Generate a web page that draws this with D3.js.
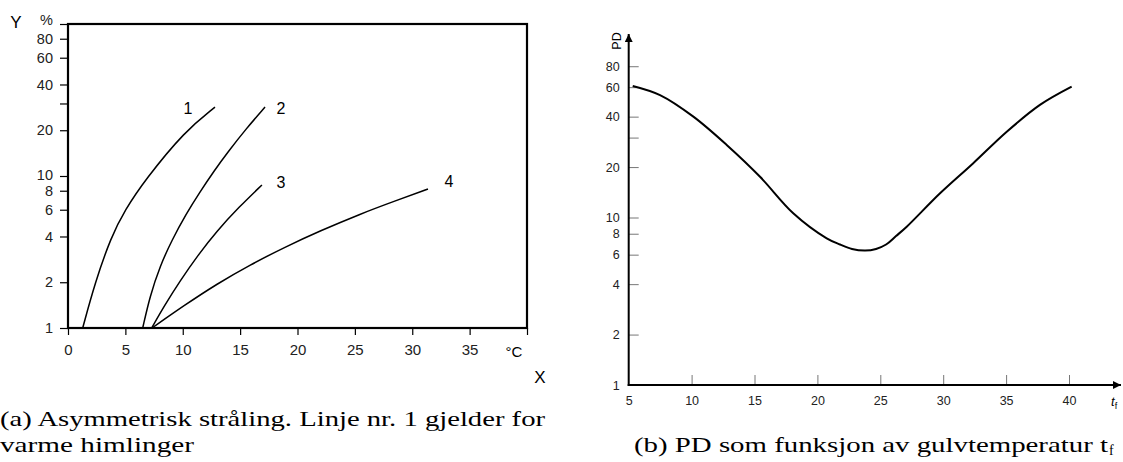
<!DOCTYPE html>
<html>
<head>
<meta charset="utf-8">
<script src="https://cdn.jsdelivr.net/npm/d3@7"></script>
<style>
  body { margin: 0; background: #fff; }
  svg { display: block; }
  .tick text { font-family: "Liberation Sans", Arial, sans-serif; fill: #222; }
</style>
</head>
<body>
<div id="main"></div>
<script>
// ---- data (a): asymmetric radiation, curves 1-4 (X in °C, Y in %)
const curveNames = ["1", "2", "3", "4"];
const c1x = [1.28, 2.35, 3.75, 4.97, 6.71, 10.2, 12.81];
const c1y = [1, 1.98, 3.97, 5.98, 9.41, 19.8, 28.4];
const c2x = [6.51, 7.14, 8.02, 9.06, 10.29, 11.5, 12.73, 13.94, 15.51, 17.17];
const c2y = [1, 1.62, 2.56, 3.79, 5.62, 7.85, 10.8, 14.4, 20.4, 28.4];
const c3x = [7.29, 8.45, 9.76, 11.33, 12.98, 14.9, 16.9];
const c3y = [1, 1.42, 2.04, 3.02, 4.35, 6.25, 8.73];
const c4x = [7.32, 10.2, 12.98, 15.86, 18.91, 21.96, 25.45, 28.5, 31.37];
const c4y = [1, 1.42, 1.95, 2.6, 3.41, 4.35, 5.62, 6.85, 8.21];
const aXTicks = [0, 5, 10, 15, 20, 25, 30, 35, 40];
const aYTicks = [1, 2, 4, 6, 8, 10, 20, 30, 40, 60, 80, 100];

// ---- data (b): PD vs floor temperature
const pdT = [5.32, 7.49, 10.14, 12.79, 15.44, 18.08, 20.74, 21.8, 22.75, 23.79, 24.66, 25.46, 26.25, 27.1, 29.75, 32.39, 35.05, 37.69, 40.21];
const pdV = [61, 53.8, 40, 27.1, 17.5, 10.6, 7.51, 6.9, 6.49, 6.35, 6.49, 6.9, 7.75, 8.81, 13.95, 21.1, 32.5, 47, 60.4];
const bXTicks = [5, 10, 15, 20, 25, 30, 35, 40];
const bYTicks = [1, 2, 4, 6, 8, 10, 20, 30, 40, 60, 80];

const W = 1123, H = 462;
const svg = d3.select("#main").append("svg")
  .attr("width", W).attr("height", H)
  .attr("viewBox", [0, 0, W, H]);

svg.append("defs").append("marker")
  .attr("id", "arrow")
  .attr("viewBox", "0 0 10 10")
  .attr("refX", 10).attr("refY", 5)
  .attr("markerUnits", "userSpaceOnUse")
  .attr("markerWidth", 11).attr("markerHeight", 8)
  .attr("orient", "auto")
  .append("path").attr("d", "M0,0 L10,5 L0,10 Z").attr("fill", "#000");

const sans = "Liberation Sans, Arial, sans-serif";

// ================= chart (a)
const ax = d3.scaleLinear().domain([0, 40]).range([68, 527]);
const ay = d3.scaleLog().domain([1, 100]).range([328, 24]);

const ga = svg.append("g");

ga.append("rect")
  .attr("x", ax(0)).attr("y", ay(100))
  .attr("width", ax(40) - ax(0)).attr("height", ay(1) - ay(100))
  .attr("fill", "none").attr("stroke", "#000").attr("stroke-width", 2.2);

ga.append("g")
  .attr("transform", `translate(0,${ay(1)})`)
  .call(d3.axisBottom(ax).tickValues(aXTicks).tickSize(7).tickPadding(9)
    .tickFormat(d => d === 40 ? "" : d))
  .call(g => g.select(".domain").remove())
  .call(g => g.selectAll(".tick line").attr("stroke", "#000").attr("stroke-width", 1.2))
  .call(g => g.selectAll(".tick text").attr("font-size", 15));

ga.append("g")
  .attr("transform", `translate(${ax(0)},0)`)
  .call(d3.axisLeft(ay).tickValues(aYTicks).tickSize(8).tickPadding(7)
    .tickFormat(d => d === 30 ? "" : d === 100 ? "%" : d))
  .call(g => g.select(".domain").remove())
  .call(g => g.selectAll(".tick line").attr("stroke", "#000").attr("stroke-width", 1.2))
  .call(g => g.selectAll(".tick text").attr("font-size", 14.5))
  .call(g => g.selectAll(".tick text").filter(d => d === 100).attr("dy", "0.05em"))
  .call(g => g.selectAll(".tick text").filter(d => d === 10).attr("dy", "0.25em"));

ga.append("text").attr("x", 16).attr("y", 28)
  .attr("text-anchor", "middle")
  .attr("font-family", sans)
  .attr("font-size", 17).text("Y");
ga.append("text").attr("x", 514).attr("y", 357)
  .attr("text-anchor", "middle")
  .attr("font-family", sans)
  .attr("font-size", 15).text("°C");
ga.append("text").attr("x", 540).attr("y", 383)
  .attr("text-anchor", "middle")
  .attr("font-family", sans)
  .attr("font-size", 17).text("X");

const aCurves = [[c1x, c1y], [c2x, c2y], [c3x, c3y], [c4x, c4y]];
const labelOff = [[-27, 2], [16, 2], [19, -2], [21, -7]];
const aLine = d3.line()
  .x(d => ax(d[0])).y(d => ay(d[1]))
  .curve(d3.curveBasis);

aCurves.forEach(([xs, ys], i) => {
  const pts = xs.map((x, j) => [x, ys[j]]);
  ga.append("path")
    .attr("d", aLine(pts))
    .attr("fill", "none").attr("stroke", "#000").attr("stroke-width", 1.5);
  const last = pts[pts.length - 1];
  ga.append("text")
    .attr("x", ax(last[0]) + labelOff[i][0])
    .attr("y", ay(last[1]) + labelOff[i][1] + 5)
    .attr("text-anchor", "middle")
    .attr("font-family", sans)
    .attr("font-size", 16).text(curveNames[i]);
});

// ================= chart (b)
const bx = d3.scaleLinear().domain([5, 40]).range([628.7, 1069]);
const by = d3.scaleLog().domain([1, 100]).range([385, 50]);

const gb = svg.append("g");

gb.append("g")
  .attr("transform", `translate(0,${by(1)})`)
  .call(d3.axisBottom(bx).tickValues(bXTicks).tickSizeInner(-10).tickSizeOuter(0).tickPadding(11)
    .tickFormat(d => d))
  .call(g => g.select(".domain").remove())
  .call(g => g.selectAll(".tick line").filter(d => d === 5).remove())
  .call(g => g.selectAll(".tick line").attr("stroke", "#777"))
  .call(g => g.selectAll(".tick text").attr("font-size", 12.5));

gb.append("g")
  .attr("transform", `translate(${bx(5)},0)`)
  .call(d3.axisLeft(by).tickValues(bYTicks).tickSizeInner(-10).tickSizeOuter(0).tickPadding(9)
    .tickFormat(d => d === 30 ? "" : d))
  .call(g => g.select(".domain").remove())
  .call(g => g.selectAll(".tick line").filter(d => d === 1).remove())
  .call(g => g.selectAll(".tick line").attr("stroke", "#777"))
  .call(g => g.selectAll(".tick text").attr("font-size", 12.5));

gb.append("line")
  .attr("x1", bx(5)).attr("x2", bx(5))
  .attr("y1", by(1) + 1).attr("y2", 34)
  .attr("stroke", "#000").attr("stroke-width", 2)
  .attr("marker-end", "url(#arrow)");
gb.append("line")
  .attr("x1", bx(5) - 1).attr("x2", 1121)
  .attr("y1", by(1)).attr("y2", by(1))
  .attr("stroke", "#000").attr("stroke-width", 2)
  .attr("marker-end", "url(#arrow)");

gb.append("text")
  .attr("transform", `translate(621,41) rotate(-90)`)
  .attr("text-anchor", "middle")
  .attr("font-family", sans)
  .attr("font-size", 12.5).text("PD");

const tf = gb.append("text")
  .attr("x", 1111).attr("y", 406)
  .attr("font-family", sans)
  .attr("font-size", 13);
tf.append("tspan").attr("font-style", "italic").text("t");
tf.append("tspan").attr("font-size", 9).attr("dy", 3).text("f");

const bLine = d3.line()
  .x(d => bx(d[0])).y(d => by(d[1]))
  .curve(d3.curveCatmullRom.alpha(0.5));
gb.append("path")
  .attr("d", bLine(pdT.map((t, i) => [t, pdV[i]])))
  .attr("fill", "none").attr("stroke", "#000").attr("stroke-width", 2);

// ================= captions
const serif = "Liberation Serif, Times New Roman, serif";
svg.append("text").attr("x", 0).attr("y", 426)
  .attr("font-family", serif).attr("font-size", 21)
  .attr("textLength", 545).attr("lengthAdjust", "spacingAndGlyphs")
  .text("(a) Asymmetrisk stråling. Linje nr. 1 gjelder for");
svg.append("text").attr("x", 0).attr("y", 452)
  .attr("font-family", serif).attr("font-size", 21)
  .attr("textLength", 194).attr("lengthAdjust", "spacingAndGlyphs")
  .text("varme himlinger");
svg.append("text").attr("x", 634).attr("y", 452)
  .attr("font-family", serif).attr("font-size", 21)
  .attr("textLength", 474).attr("lengthAdjust", "spacingAndGlyphs")
  .text("(b) PD som funksjon av gulvtemperatur t");
svg.append("text").attr("x", 1109).attr("y", 455)
  .attr("font-family", serif).attr("font-size", 14)
  .text("f");
</script>
</body>
</html>
